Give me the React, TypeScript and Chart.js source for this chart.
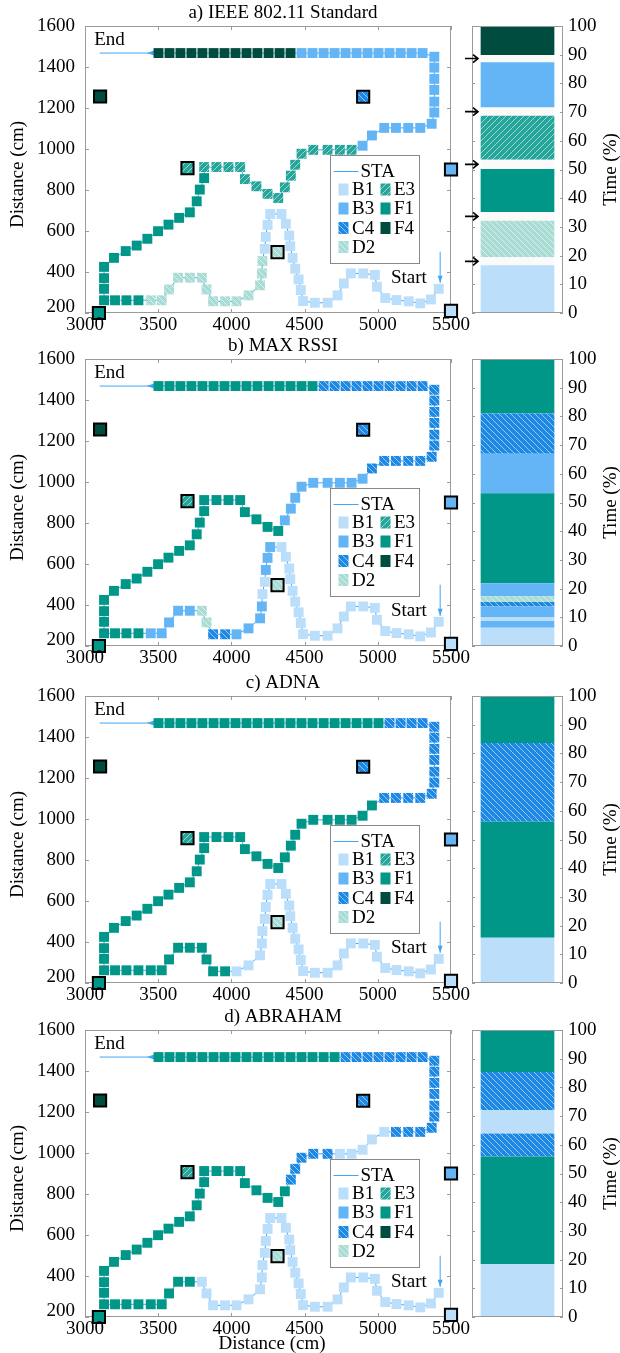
import React, { useEffect, useRef } from 'react';
import { Chart, registerables } from 'chart.js';

Chart.register(...registerables);

const FONT = "'Liberation Serif', 'Times New Roman', serif";
const FS = 19;
const STA_COLOR = '#42A5F5';
const FRAME = '#9a9a9a';
const PLOT_H = 287;

// ---------- data ----------
// STA path, in walking order from "Start" to "End" (cm)
const pathX = [
  5416, 5363, 5290, 5211, 5128, 5051, 4994, 4980, 4901, 4816,
  4768, 4725, 4657, 4570, 4490, 4474, 4459, 4436, 4418, 4402,
  4395, 4372, 4342, 4265, 4247, 4235, 4228, 4212, 4208, 4196,
  4117, 4035, 3957, 3875, 3830, 3798, 3716, 3636, 3574, 3524,
  3449, 3365, 3283, 3205, 3130, 3130, 3130, 3130, 3198, 3278,
  3353, 3426, 3499, 3570, 3643, 3716, 3763, 3784, 3814, 3814,
  3898, 3980, 4060, 4092, 4171, 4247, 4320, 4365, 4406, 4436,
  4479, 4559, 4657, 4741, 4821, 4896, 4960, 5044, 5124, 5208,
  5290, 5368, 5386, 5386, 5386, 5386, 5386, 5386,
  5306, 5231, 5156, 5080, 5005, 4930, 4855, 4780, 4705, 4630,
  4554, 4479, 4404, 4329, 4254, 4178, 4103, 4028, 3953, 3878,
  3802, 3727, 3652, 3577, 3502,
];
const pathY = [
  318, 266, 247, 257, 263, 273, 328, 386, 393, 393,
  344, 286, 250, 250, 258, 312, 364, 416, 469, 526,
  578, 635, 683, 683, 630, 571, 513, 453, 393, 335,
  286, 257, 257, 257, 315, 372, 372, 372, 315, 262,
  262, 262, 262, 262, 262, 318, 370, 425, 469, 502,
  529, 562, 599, 631, 664, 691, 745, 802, 858, 912,
  912, 912, 912, 853, 818, 781, 761, 813, 870, 923,
  977, 996, 996, 996, 996, 1016, 1066, 1103, 1103, 1103,
  1103, 1123, 1178, 1231, 1288, 1342, 1397, 1450,
  1468, 1468, 1468, 1468, 1468, 1468, 1468, 1468, 1468, 1468,
  1468, 1468, 1468, 1468, 1468, 1468, 1468, 1468, 1468, 1468,
  1468, 1468, 1468, 1468, 1468,
];

// access points
const apNames = ['B1', 'B3', 'C4', 'D2', 'E3', 'F1', 'F4'];
const apX = [5500, 5500, 4900, 4315, 3700, 3095, 3103];
const apY = [210, 900, 1255, 497, 907, 200, 1256];

const panelTitles = ['a) IEEE 802.11 Standard', 'b) MAX RSSI', 'c) ADNA', 'd) ABRAHAM'];

// association along the path: station + number of consecutive path points
const trajStationsA = ['B1', 'D2', 'F1', 'E3', 'B3', 'F4'];
const trajCountsA = [27, 14, 18, 16, 25, 13];
const trajStationsB = ['B1', 'B3', 'B1', 'B3', 'C4', 'D2', 'B3', 'F1', 'B3', 'C4', 'F1'];
const trajCountsB = [23, 3, 2, 4, 2, 2, 5, 26, 9, 22, 15];
const trajStationsC = ['B1', 'F1', 'C4', 'F1'];
const trajCountsC = [32, 45, 15, 21];
const trajStationsD = ['B1', 'F1', 'C4', 'B1', 'C4', 'F1'];
const trajCountsD = [36, 32, 5, 5, 18, 17];

// time share (%) stacked bottom to top ("gap" = handover)
const barStationsA = ['B1', 'gap', 'D2', 'gap', 'F1', 'gap', 'E3', 'gap', 'B3', 'gap', 'F4'];
const barValuesA = [16.6, 2.8, 12.7, 3.1, 15.0, 3.2, 15.3, 2.9, 15.8, 2.5, 10.1];
const barStationsB = ['B1', 'B3', 'B1', 'B3', 'C4', 'D2', 'B3', 'F1', 'B3', 'C4', 'F1'];
const barValuesB = [6.4, 2.3, 1.2, 3.9, 1.5, 2.0, 4.6, 31.3, 13.8, 14.0, 19.0];
const barStationsC = ['B1', 'F1', 'C4', 'F1'];
const barValuesC = [15.8, 40.5, 27.3, 16.4];
const barStationsD = ['B1', 'F1', 'C4', 'B1', 'C4', 'F1'];
const barValuesD = [18.4, 37.5, 8.0, 8.1, 13.4, 14.6];

const xTicks = [3000, 3500, 4000, 4500, 5000, 5500];
const yTicks = [200, 400, 600, 800, 1000, 1200, 1400, 1600];
const timeTicks = [0, 10, 20, 30, 40, 50, 60, 70, 80, 90, 100];

const legendCol1 = ['B1', 'B3', 'C4', 'D2'];
const legendCol2 = ['E3', 'F1', 'F4'];

// annotation anchors (data units)
const endLabel = { x: 3063, y: 1534 };
const startLabel = { x: 5335, y: 372 };
const endArrow = { x0: 3100, x1: 3502, head: 3423, y: 1468 };
const startArrow = { x: 5426, y0: 499, y1: 347 };

// ---------- styles ----------
const STATION_BASE: Record<string, string> = {
  B1: '#BBDEFB',
  B3: '#64B5F6',
  C4: '#1E88E5',
  D2: '#A8DCD5',
  E3: '#26A69A',
  F1: '#009688',
  F4: '#004D40',
  gap: '#FAFAFA',
};
const STATION_HATCH: Record<string, string> = { C4: '\\', D2: '\\', E3: '/' };

function makeHatch(base: string, dir: string): any {
  const c = document.createElement('canvas');
  c.width = 6;
  c.height = 6;
  const g = c.getContext('2d');
  if (!g) return base;
  g.fillStyle = base;
  g.fillRect(0, 0, 6, 6);
  g.strokeStyle = 'rgba(255,255,255,0.55)';
  g.lineWidth = 1;
  g.beginPath();
  for (let o = -6; o <= 6; o += 6) {
    if (dir === '/') {
      g.moveTo(o, 6);
      g.lineTo(o + 6, 0);
    } else {
      g.moveTo(o, 0);
      g.lineTo(o + 6, 6);
    }
  }
  g.stroke();
  return g.createPattern(c, 'repeat') || base;
}

function buildStyles(): Record<string, any> {
  const st: Record<string, any> = {};
  Object.keys(STATION_BASE).forEach((k) => {
    st[k] = STATION_HATCH[k] ? makeHatch(STATION_BASE[k], STATION_HATCH[k]) : STATION_BASE[k];
  });
  return st;
}

function expand(stations: string[], counts: number[]): string[] {
  const out: string[] = [];
  stations.forEach((s, i) => {
    for (let k = 0; k < counts[i]; k++) out.push(s);
  });
  return out;
}

type PanelDef = {
  title: string;
  trajS: string[];
  trajC: number[];
  barS: string[];
  barV: number[];
  top: number;
  arrows: boolean;
};

const panels: PanelDef[] = [
  { title: panelTitles[0], trajS: trajStationsA, trajC: trajCountsA, barS: barStationsA, barV: barValuesA, top: 26, arrows: true },
  { title: panelTitles[1], trajS: trajStationsB, trajC: trajCountsB, barS: barStationsB, barV: barValuesB, top: 359, arrows: false },
  { title: panelTitles[2], trajS: trajStationsC, trajC: trajCountsC, barS: barStationsC, barV: barValuesC, top: 696, arrows: false },
  { title: panelTitles[3], trajS: trajStationsD, trajC: trajCountsD, barS: barStationsD, barV: barValuesD, top: 1030, arrows: false },
];

const font = (s = FS) => `${s}px ${FONT}`;

function scatterDecor(p: PanelDef, last: boolean, st: Record<string, any>) {
  return {
    id: 'scatterDecor',
    beforeDatasetsDraw(chart: any) {
      const { ctx, chartArea: a } = chart;
      const xs = chart.scales.x;
      const ys = chart.scales.y;
      ctx.save();
      ctx.strokeStyle = FRAME;
      ctx.lineWidth = 1;
      ctx.strokeRect(a.left + 0.5, a.top + 0.5, a.right - a.left - 1, a.bottom - a.top - 1);
      ctx.beginPath();
      xTicks.forEach((v) => {
        const px = Math.round(xs.getPixelForValue(v)) + 0.5;
        ctx.moveTo(px, a.bottom);
        ctx.lineTo(px, a.bottom - 4);
        ctx.moveTo(px, a.top);
        ctx.lineTo(px, a.top + 4);
      });
      yTicks.forEach((v) => {
        const py = Math.round(ys.getPixelForValue(v)) + 0.5;
        ctx.moveTo(a.left, py);
        ctx.lineTo(a.left + 4, py);
        ctx.moveTo(a.right, py);
        ctx.lineTo(a.right - 4, py);
      });
      ctx.stroke();

      // end arrow
      ctx.strokeStyle = STA_COLOR;
      ctx.fillStyle = STA_COLOR;
      ctx.lineWidth = 1;
      const ey = ys.getPixelForValue(endArrow.y);
      ctx.beginPath();
      ctx.moveTo(xs.getPixelForValue(endArrow.x0), ey);
      ctx.lineTo(xs.getPixelForValue(endArrow.x1), ey);
      ctx.stroke();
      const hx = xs.getPixelForValue(endArrow.head);
      ctx.beginPath();
      ctx.moveTo(hx, ey);
      ctx.lineTo(hx + 7, ey - 2.5);
      ctx.lineTo(hx + 7, ey + 2.5);
      ctx.closePath();
      ctx.fill();

      // start arrow
      const sx = xs.getPixelForValue(startArrow.x);
      const sy0 = ys.getPixelForValue(startArrow.y0);
      const sy1 = ys.getPixelForValue(startArrow.y1);
      ctx.beginPath();
      ctx.moveTo(sx, sy0);
      ctx.lineTo(sx, sy1);
      ctx.stroke();
      ctx.beginPath();
      ctx.moveTo(sx, sy1);
      ctx.lineTo(sx - 2.5, sy1 - 7);
      ctx.lineTo(sx + 2.5, sy1 - 7);
      ctx.closePath();
      ctx.fill();
      ctx.restore();
    },
    afterDatasetsDraw(chart: any) {
      const { ctx, chartArea: a } = chart;
      const xs = chart.scales.x;
      const ys = chart.scales.y;
      ctx.save();
      ctx.fillStyle = '#000';
      ctx.font = font();
      ctx.textBaseline = 'middle';

      // tick labels
      ctx.textAlign = 'center';
      xTicks.forEach((v) => ctx.fillText(String(v), xs.getPixelForValue(v), a.bottom + 12));
      ctx.textAlign = 'right';
      yTicks.forEach((v, i) => ctx.fillText(String(v), a.left - 10, ys.getPixelForValue(v) - (i === 0 ? 6 : 0)));

      // title
      ctx.textAlign = 'center';
      ctx.fillText(p.title, 283, a.top - 12.5);

      // axis titles
      ctx.save();
      ctx.translate(18.5, (a.top + a.bottom) / 2 + 5);
      ctx.rotate(-Math.PI / 2);
      ctx.fillText('Distance (cm)', 0, 0);
      ctx.restore();
      if (last) ctx.fillText('Distance (cm)', 272, a.bottom + 27);

      // End / Start labels
      ctx.textAlign = 'left';
      ctx.fillText('End', xs.getPixelForValue(endLabel.x), ys.getPixelForValue(endLabel.y));
      ctx.textAlign = 'right';
      ctx.fillText('Start', xs.getPixelForValue(startLabel.x), ys.getPixelForValue(startLabel.y));

      // legend
      const L = Math.round(a.left + 245) + 0.5;
      const T = Math.round(a.top + 129) + 0.5;
      const W = 89;
      const H = 108;
      ctx.fillStyle = '#fff';
      ctx.fillRect(L, T, W, H);
      ctx.strokeStyle = '#888';
      ctx.lineWidth = 1;
      ctx.strokeRect(L, T, W, H);
      ctx.strokeStyle = STA_COLOR;
      ctx.beginPath();
      ctx.moveTo(L + 3, T + 16);
      ctx.lineTo(L + 28, T + 16);
      ctx.stroke();
      ctx.fillStyle = '#000';
      ctx.textAlign = 'left';
      ctx.fillText('STA', L + 30, T + 17);
      const rows = [34, 53, 72.5, 91.5];
      const drawCol = (names: string[], sx: number) => {
        names.forEach((s, i) => {
          ctx.fillStyle = st[s];
          ctx.fillRect(sx, T + rows[i] - 6, 10, 12);
          ctx.fillStyle = '#000';
          ctx.fillText(s, sx + 13.5, T + rows[i] + 1);
        });
      };
      drawCol(legendCol1, L + 8);
      drawCol(legendCol2, L + 50);
      ctx.restore();
    },
  };
}

function barDecor(p: PanelDef) {
  return {
    id: 'barDecor',
    afterDatasetsDraw(chart: any) {
      const { ctx, chartArea: a } = chart;
      const ys = chart.scales.y;
      ctx.save();
      ctx.strokeStyle = FRAME;
      ctx.lineWidth = 1;
      ctx.strokeRect(a.left + 0.5, a.top + 0.5, a.right - a.left - 1, a.bottom - a.top - 1);
      ctx.beginPath();
      timeTicks.forEach((v) => {
        const py = Math.round(ys.getPixelForValue(v)) + 0.5;
        ctx.moveTo(a.left, py);
        ctx.lineTo(a.left + 3, py);
        ctx.moveTo(a.right, py);
        ctx.lineTo(a.right - 3, py);
      });
      ctx.stroke();

      ctx.fillStyle = '#000';
      ctx.font = font();
      ctx.textBaseline = 'middle';
      ctx.textAlign = 'left';
      timeTicks.forEach((v) => ctx.fillText(String(v), a.right + 5, ys.getPixelForValue(v)));

      ctx.save();
      ctx.textAlign = 'center';
      ctx.translate(151.5, (a.top + a.bottom) / 2);
      ctx.rotate(-Math.PI / 2);
      ctx.fillText('Time (%)', 0, 0);
      ctx.restore();

      if (p.arrows) {
        ctx.strokeStyle = '#000';
        ctx.lineWidth = 1.6;
        let cum = 0;
        p.barS.forEach((s, i) => {
          if (s === 'gap') {
            const py = ys.getPixelForValue(cum + p.barV[i] / 2);
            const tip = a.left + 6;
            ctx.beginPath();
            ctx.moveTo(a.left - 7, py);
            ctx.lineTo(tip, py);
            ctx.moveTo(tip - 5, py - 4);
            ctx.lineTo(tip, py);
            ctx.lineTo(tip - 5, py + 4);
            ctx.stroke();
          }
          cum += p.barV[i];
        });
      }
      ctx.restore();
    },
  };
}

function Panel({ p, last }: { p: PanelDef; last: boolean }) {
  const sRef = useRef<HTMLCanvasElement>(null);
  const bRef = useRef<HTMLCanvasElement>(null);
  const xh = last ? 36 : 30;
  const H = 26 + PLOT_H + xh;

  useEffect(() => {
    const st = buildStyles();
    const ptStations = expand(p.trajS, p.trajC);
    const pathData = pathX.map((x, i) => ({ x, y: pathY[i] }));
    const apData = apX.map((x, i) => ({ x, y: apY[i] }));

    const sc = new Chart(sRef.current as HTMLCanvasElement, {
      type: 'scatter',
      data: {
        datasets: [
          {
            data: apData,
            pointStyle: 'rect',
            pointRadius: 8.6,
            backgroundColor: apNames.map((n) => st[n]),
            borderColor: '#000',
            borderWidth: 2,
            clip: false,
            order: 0,
          },
          {
            data: pathData,
            pointStyle: 'rect',
            pointRadius: 7,
            backgroundColor: ptStations.map((n) => st[n]),
            borderWidth: 0,
            clip: false,
            order: 1,
          },
          {
            data: pathData,
            showLine: true,
            pointRadius: 0,
            borderColor: STA_COLOR,
            borderWidth: 1,
            order: 2,
          },
        ],
      } as any,
      options: {
        animation: false,
        responsive: false,
        maintainAspectRatio: false,
        devicePixelRatio: 1,
        events: [],
        layout: { padding: { top: 26, right: 19, left: 0, bottom: 0 } },
        plugins: { legend: { display: false }, tooltip: { enabled: false }, title: { display: false } },
        scales: {
          x: {
            type: 'linear',
            min: 3000,
            max: 5500,
            grid: { display: false, drawTicks: false },
            border: { display: false },
            ticks: { display: false },
            afterFit: (s: any) => {
              s.height = xh;
            },
          },
          y: {
            type: 'linear',
            min: 200,
            max: 1600,
            grid: { display: false, drawTicks: false },
            border: { display: false },
            ticks: { display: false },
            afterFit: (s: any) => {
              s.width = 85;
            },
          },
        },
      } as any,
      plugins: [scatterDecor(p, last, st)],
    });

    const bc = new Chart(bRef.current as HTMLCanvasElement, {
      type: 'bar',
      data: {
        labels: [''],
        datasets: p.barS.map((s, i) => ({
          data: [p.barV[i]],
          backgroundColor: st[s],
          borderWidth: 0,
          barPercentage: 0.81,
          categoryPercentage: 1,
          stack: 'time',
        })),
      } as any,
      options: {
        animation: false,
        responsive: false,
        maintainAspectRatio: false,
        devicePixelRatio: 1,
        events: [],
        layout: { padding: { top: 26, left: 12, right: 0, bottom: xh } },
        plugins: { legend: { display: false }, tooltip: { enabled: false } },
        scales: {
          x: { stacked: true, display: false },
          y: {
            stacked: true,
            position: 'right',
            min: 0,
            max: 100,
            grid: { display: false, drawTicks: false },
            border: { display: false },
            ticks: { display: false },
            afterFit: (s: any) => {
              s.width = 57;
            },
          },
        },
      } as any,
      plugins: [barDecor(p)],
    });

    return () => {
      sc.destroy();
      bc.destroy();
    };
  }, []);

  return (
    <>
      <canvas
        ref={sRef}
        width={470}
        height={H}
        style={{ position: 'absolute', left: 0, top: p.top - 26, width: 470, height: H }}
      />
      <canvas
        ref={bRef}
        width={160}
        height={H}
        style={{ position: 'absolute', left: 460, top: p.top - 26, width: 160, height: H }}
      />
    </>
  );
}

export default function App() {
  return (
    <div
      style={{
        position: 'absolute',
        left: 0,
        top: 0,
        width: 620,
        height: 1353,
        overflow: 'hidden',
        background: '#fff',
      }}
    >
      {panels.map((p, i) => (
        <Panel key={i} p={p} last={i === panels.length - 1} />
      ))}
    </div>
  );
}
